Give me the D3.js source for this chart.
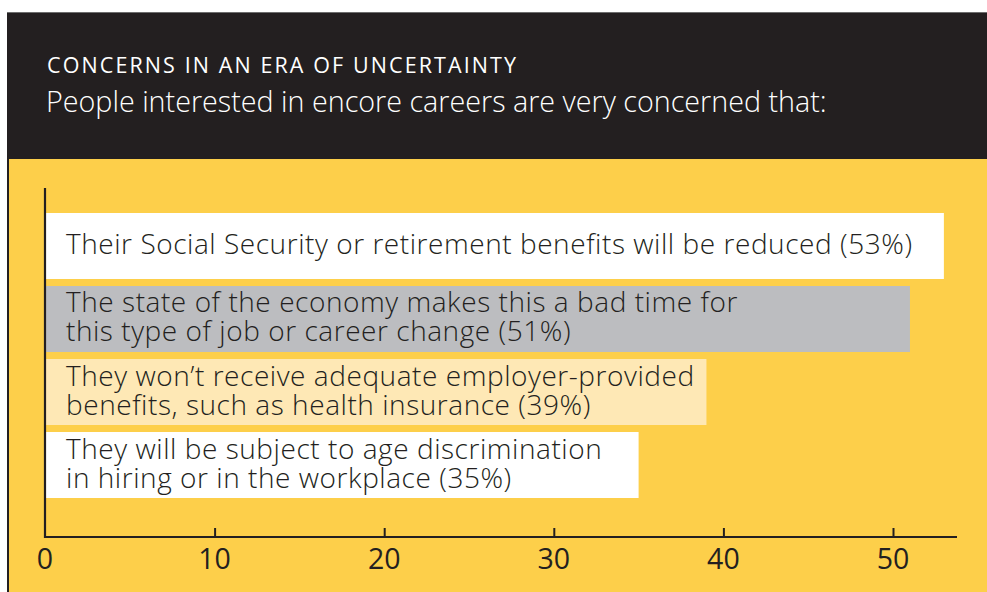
<!DOCTYPE html>
<html>
<head>
<meta charset="utf-8">
<script src="https://cdn.jsdelivr.net/npm/d3@7"></script>
<style>
  html, body { margin: 0; padding: 0; background: #ffffff; }
  svg { display: block; }
</style>
</head>
<body>
<svg id="chart" width="987" height="592"></svg>
<script>
// Survey concerns (share of respondents, %)
const concerns = [
  ["Their Social Security or retirement benefits will be reduced (53%)"],
  ["The state of the economy makes this a bad time for", "this type of job or career change (51%)"],
  ["They won\u2019t receive adequate employer-provided", "benefits, such as health insurance (39%)"],
  ["They will be subject to age discrimination", "in hiring or in the workplace (35%)"]
];
const values = [53, 51, 39, 35];
const barColors = ["#ffffff", "#bcbdc0", "#fee8b5", "#ffffff"];
const ticks = [0, 10, 20, 30, 40, 50];
const title = "CONCERNS IN AN ERA OF UNCERTAINTY";
const subtitle = "People interested in encore careers are very concerned that:";

const W = 987, H = 592;
const dark = "#231f20", yellow = "#fdcf4a";
const svg = d3.select("#chart");

// Panel background: dark header over a yellow plot area
svg.append("rect").attr("x", 7).attr("y", 12.5).attr("width", W - 7).attr("height", H - 12.5)
  .attr("fill", dark);
svg.append("line").attr("x1", 7).attr("x2", W).attr("y1", 12.5).attr("y2", 12.5)
  .attr("stroke", "#6d6d6d").attr("stroke-width", 1);
svg.append("rect").attr("x", 9).attr("y", 159).attr("width", W - 9).attr("height", H - 159)
  .attr("fill", yellow);

svg.append("text").attr("x", 47).attr("y", 72.5)
  .attr("font-family", "Open Sans").attr("font-weight", 500).attr("font-size", 21.5)
  .attr("letter-spacing", 2.1).attr("fill", "#ffffff").text(title);
svg.append("text").attr("x", 46).attr("y", 112)
  .attr("font-family", "Open Sans").attr("font-weight", 300).attr("font-size", 28.7)
  .attr("fill", "#ffffff").text(subtitle);

// Scales
const x = d3.scaleLinear().domain([0, 50]).range([45, 893]);
const y = d3.scaleBand().domain(d3.range(values.length)).range([213, 498]).paddingInner(0.096).paddingOuter(0);

// Bars
svg.append("g").selectAll("rect").data(values).join("rect")
  .attr("x", x(0))
  .attr("y", (d, i) => y(i))
  .attr("width", d => x(d) - x(0))
  .attr("height", y.bandwidth())
  .attr("fill", (d, i) => barColors[i]);

// Labels inside bars, one text element per line
const labels = svg.append("g").attr("font-family", "Open Sans").attr("font-weight", 300)
  .attr("font-size", 28).attr("letter-spacing", 0.55).attr("fill", dark);
concerns.forEach((lines, i) => {
  const lh = 29;
  const cy = y(i) + y.bandwidth() / 2;
  const firstBase = cy + 8 - (lines.length - 1) * lh / 2;
  lines.forEach((ln, j) => {
    labels.append("text").attr("x", 66).attr("y", firstBase + j * lh).text(ln);
  });
});

// Axes
const axisY = 537;
svg.append("line").attr("x1", x(0)).attr("x2", x(0)).attr("y1", 188).attr("y2", axisY + 1)
  .attr("stroke", dark).attr("stroke-width", 2.2);
const xAxis = d3.axisTop(x).tickValues(ticks).tickSize(9).tickFormat("");
const gx = svg.append("g").attr("transform", `translate(0,${axisY})`).call(xAxis);
gx.select(".domain").remove();
gx.selectAll(".tick line").attr("stroke", dark).attr("stroke-width", 2);
gx.selectAll(".tick").filter(d => d === 0).select("line").remove();
svg.append("line").attr("x1", x(0) - 1).attr("x2", 957).attr("y1", axisY).attr("y2", axisY)
  .attr("stroke", dark).attr("stroke-width", 2.2);

svg.append("g").attr("font-family", "Open Sans").attr("font-weight", 400).attr("font-size", 28.5)
  .attr("fill", dark).attr("text-anchor", "middle")
  .selectAll("text").data(ticks).join("text")
  .attr("x", d => x(d)).attr("y", 569).text(d => d);
</script>
</body>
</html>
